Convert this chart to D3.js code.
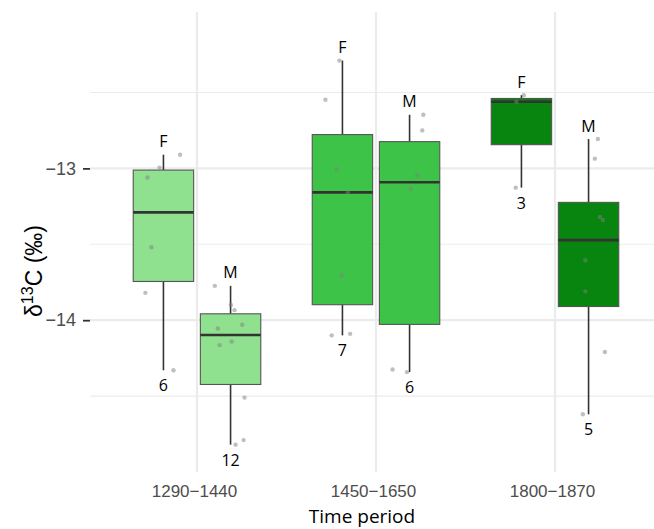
<!DOCTYPE html>
<html>
<head>
<meta charset="utf-8">
<script src="https://cdn.jsdelivr.net/npm/d3@7"></script>
<style>
  body { margin: 0; background: #fff; }
</style>
</head>
<body>
<div id="chart"></div>
<script>
// categories
var periods = ["1290−1440", "1450−1650", "1800−1870"];
var sexes = ["F", "M"];

// d13C values of each group
var f1290 = [-12.91, -12.995, -13.06, -13.52, -13.82, -14.33];
var m1290 = [-13.774, -13.90, -13.934, -14.055, -14.03, -14.164, -14.14, -14.51, -14.82, -14.79];
var f1450 = [-12.29, -12.548, -13.007, -13.158, -13.706, -14.10, -14.09];
var m1450 = [-12.647, -12.75, -13.046, -13.136, -14.325, -14.342];
var f1800 = [-12.518, -12.561, -13.127];
var m1800 = [-12.807, -12.936, -13.32, -13.34, -13.605, -13.81, -14.21, -14.62];

// horizontal jitter of the points (in category units), as drawn
var jf1290 = [0.093, -0.022, -0.089, -0.067, -0.101, 0.056];
var jm1290 = [-0.088, 0.002, 0.022, -0.071, 0.065, -0.061, 0.006, 0.078, 0.028, 0.073];
var jf1450 = [-0.017, -0.095, -0.032, 0.030, -0.004, -0.060, 0.043];
var jm1450 = [0.077, 0.071, 0.043, 0.006, -0.095, -0.015];
var jf1800 = [0.013, -0.028, -0.032];
var jm1800 = [0.052, 0.035, 0.063, 0.080, -0.018, -0.018, 0.091, -0.032];

// labels printed under each box
var countLabels = ["6", "12", "7", "6", "3", "5"];

var yTicks = [-13, -14];
var yMinor = [-12.5, -13.5, -14.5];

var boxColors = ["#8fe08f", "#3dc347", "#07850f"];

var groups = [
  { period: 0, sex: 0, values: f1290, jitter: jf1290, n: countLabels[0] },
  { period: 0, sex: 1, values: m1290, jitter: jm1290, n: countLabels[1] },
  { period: 1, sex: 0, values: f1450, jitter: jf1450, n: countLabels[2] },
  { period: 1, sex: 1, values: m1450, jitter: jm1450, n: countLabels[3] },
  { period: 2, sex: 0, values: f1800, jitter: jf1800, n: countLabels[4] },
  { period: 2, sex: 1, values: m1800, jitter: jm1800, n: countLabels[5] },
];

// box stats (R type 7 quantiles, 1.5 IQR whiskers)
groups.forEach(function (g) {
  var v = g.values.slice().sort(d3.ascending);
  g.q1 = d3.quantile(v, 0.25);
  g.med = d3.quantile(v, 0.5);
  g.q3 = d3.quantile(v, 0.75);
  var iqr = g.q3 - g.q1;
  g.lo = d3.min(v.filter((d) => d >= g.q1 - 1.5 * iqr));
  g.hi = d3.max(v.filter((d) => d <= g.q3 + 1.5 * iqr));
});

var width = 654, height = 529;
var panel = { left: 90, top: 12, bottom: 472 };
var labelFont = "'Open Sans', 'Noto Sans', sans-serif";
var tickFont = "'Liberation Sans', Arial, sans-serif";

var svg = d3
  .select("#chart")
  .append("svg")
  .attr("width", width)
  .attr("height", height);

// discrete positions 1..3 with ggplot-like expansion
var x = d3.scaleLinear().domain([0.4, 3.6]).range([89.6, 662.4]);
var y = d3.scaleLinear().domain([-15.0, -11.97]).range([panel.bottom, panel.top]);

var dodge = 0.1875, boxW = 0.3375;
function cx(g) {
  return g.period + 1 + (g.sex === 0 ? -dodge : dodge);
}

// grid
svg
  .selectAll(".minor")
  .data(yMinor)
  .enter()
  .append("line")
  .attr("x1", panel.left)
  .attr("x2", width)
  .attr("y1", (d) => y(d))
  .attr("y2", (d) => y(d))
  .attr("stroke", "#ebebeb")
  .attr("stroke-width", 1.1);

svg
  .selectAll(".major")
  .data(yTicks)
  .enter()
  .append("line")
  .attr("x1", panel.left)
  .attr("x2", width)
  .attr("y1", (d) => y(d))
  .attr("y2", (d) => y(d))
  .attr("stroke", "#ebebeb")
  .attr("stroke-width", 2.2);

svg
  .selectAll(".vgrid")
  .data(periods)
  .enter()
  .append("line")
  .attr("x1", (d, i) => x(i + 1))
  .attr("x2", (d, i) => x(i + 1))
  .attr("y1", panel.top)
  .attr("y2", panel.bottom)
  .attr("stroke", "#ebebeb")
  .attr("stroke-width", 2.2);

// boxes
var box = svg.selectAll(".box").data(groups).enter().append("g");

box
  .append("line")
  .attr("x1", (d) => x(cx(d)))
  .attr("x2", (d) => x(cx(d)))
  .attr("y1", (d) => y(d.hi))
  .attr("y2", (d) => y(d.q3))
  .attr("stroke", "#333")
  .attr("stroke-width", 1.6);

box
  .append("line")
  .attr("x1", (d) => x(cx(d)))
  .attr("x2", (d) => x(cx(d)))
  .attr("y1", (d) => y(d.q1))
  .attr("y2", (d) => y(d.lo))
  .attr("stroke", "#333")
  .attr("stroke-width", 1.6);

box
  .append("rect")
  .attr("x", (d) => x(cx(d) - boxW / 2))
  .attr("width", (d) => x(boxW) - x(0))
  .attr("y", (d) => y(d.q3))
  .attr("height", (d) => y(d.q1) - y(d.q3))
  .attr("fill", (d) => boxColors[d.period])
  .attr("stroke", "#555")
  .attr("stroke-width", 1.1);

box
  .append("line")
  .attr("x1", (d) => x(cx(d) - boxW / 2))
  .attr("x2", (d) => x(cx(d) + boxW / 2))
  .attr("y1", (d) => y(d.med))
  .attr("y2", (d) => y(d.med))
  .attr("stroke", "#333")
  .attr("stroke-width", 2.6);

// jittered points
groups.forEach(function (g) {
  svg
    .selectAll(null)
    .data(g.values)
    .enter()
    .append("circle")
    .attr("cx", (d, i) => x(cx(g) + g.jitter[i]))
    .attr("cy", (d) => y(d))
    .attr("r", 2.2)
    .attr("fill", "#808080")
    .attr("opacity", 0.5);
});

// sex and count labels
box
  .append("text")
  .attr("x", (d) => x(cx(d)))
  .attr("y", (d) => y(d.hi) - 7.5)
  .attr("text-anchor", "middle")
  .style("font-family", labelFont)
  .style("font-size", "16px")
  .attr("fill", "#000")
  .text((d) => sexes[d.sex]);

box
  .append("text")
  .attr("x", (d) => x(cx(d)))
  .attr("y", (d) => y(d.lo) + 21)
  .attr("text-anchor", "middle")
  .style("font-family", labelFont)
  .style("font-size", "16px")
  .attr("fill", "#000")
  .text((d) => d.n);

// y axis
var yAxis = svg
  .append("g")
  .attr("transform", "translate(" + panel.left + ",0)")
  .call(
    d3
      .axisLeft(y)
      .tickValues(yTicks)
      .tickFormat(d3.format("d"))
      .tickSize(7)
      .tickPadding(7),
  );
yAxis.select(".domain").remove();
yAxis.selectAll(".tick line").attr("stroke", "#333").attr("stroke-width", 1.8);
yAxis
  .selectAll(".tick text")
  .attr("fill", "#4d4d4d")
  .style("font-family", tickFont)
  .style("font-size", "18px");

// x axis labels
var xAxis = svg
  .append("g")
  .attr("transform", "translate(0," + panel.bottom + ")")
  .call(
    d3
      .axisBottom(x)
      .tickValues([1, 2, 3])
      .tickFormat((d) => periods[d - 1])
      .tickSize(0)
      .tickPadding(13),
  );
xAxis.select(".domain").remove();
xAxis
  .selectAll(".tick text")
  .attr("dx", -3)
  .attr("fill", "#4d4d4d")
  .style("font-family", tickFont)
  .style("font-size", "17px");

// axis titles
svg
  .append("text")
  .attr("x", 362)
  .attr("y", 523)
  .attr("text-anchor", "middle")
  .style("font-family", labelFont)
  .style("font-size", "19px")
  .attr("fill", "#000")
  .text("Time period");

var yTitle = svg
  .append("text")
  .attr("transform", "translate(42,271) rotate(-90)")
  .attr("text-anchor", "middle")
  .style("font-family", tickFont)
  .style("font-size", "23px")
  .attr("fill", "#000");
yTitle.append("tspan").text("δ");
yTitle.append("tspan").attr("dy", -9).style("font-size", "16px").text("13");
yTitle.append("tspan").attr("dy", 9).text("C (‰)");
</script>
</body>
</html>
